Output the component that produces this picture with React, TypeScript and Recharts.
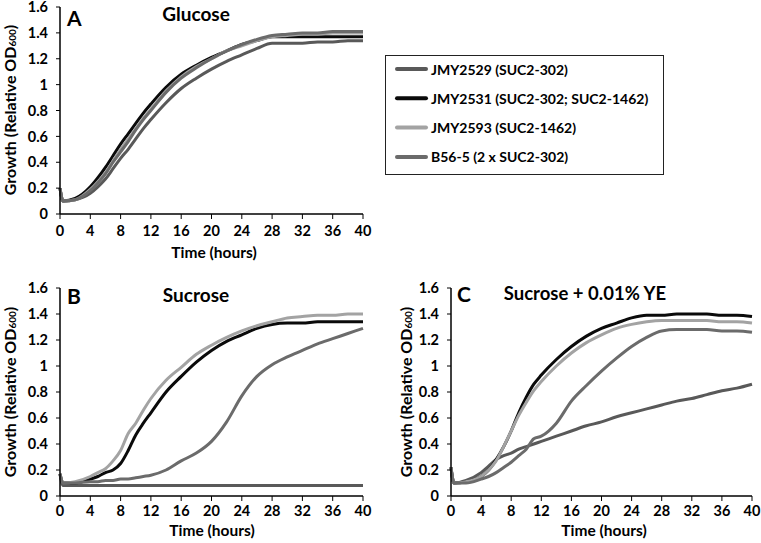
import React from "react";
import { LineChart, Line, XAxis, YAxis } from "recharts";

const FONT = "Lato, 'Open Sans', sans-serif";

const hours = [0, 0.4, 2, 4, 5, 6, 7, 8, 9, 10, 11, 12, 14, 16, 18, 20, 22, 24, 26, 28, 30, 32, 34, 36, 38, 40];
const xTicks = [0, 4, 8, 12, 16, 20, 24, 28, 32, 36, 40];
const yTicks = [0, 0.2, 0.4, 0.6, 0.8, 1, 1.2, 1.4, 1.6];

const strains = ["JMY2529 (SUC2-302)", "JMY2531 (SUC2-302; SUC2-1462)", "JMY2593 (SUC2-1462)", "B56-5 (2 x SUC2-302)"];
const strainColors = ["#595959", "#0a0a0a", "#a3a3a3", "#6b6b6b"];

// A: glucose
const glucose2529 = [0.2, 0.1, 0.11, 0.16, 0.21, 0.27, 0.35, 0.43, 0.5, 0.58, 0.66, 0.73, 0.86, 0.97, 1.05, 1.12, 1.18, 1.23, 1.28, 1.32, 1.32, 1.32, 1.33, 1.33, 1.34, 1.34];
const glucose2531 = [0.2, 0.1, 0.12, 0.21, 0.28, 0.36, 0.45, 0.54, 0.62, 0.7, 0.78, 0.85, 0.98, 1.08, 1.15, 1.21, 1.26, 1.31, 1.34, 1.37, 1.37, 1.37, 1.37, 1.37, 1.37, 1.37];
const glucose2593 = [0.2, 0.1, 0.11, 0.19, 0.25, 0.32, 0.41, 0.5, 0.58, 0.66, 0.74, 0.81, 0.95, 1.06, 1.14, 1.2, 1.26, 1.3, 1.34, 1.37, 1.38, 1.39, 1.39, 1.4, 1.4, 1.4];
const glucoseB565 = [0.2, 0.1, 0.11, 0.18, 0.24, 0.31, 0.4, 0.48, 0.56, 0.65, 0.73, 0.8, 0.94, 1.05, 1.13, 1.2, 1.26, 1.31, 1.35, 1.38, 1.39, 1.4, 1.4, 1.41, 1.41, 1.41];

// B: sucrose
const sucrose2529 = [0.17, 0.08, 0.08, 0.08, 0.08, 0.08, 0.08, 0.08, 0.08, 0.08, 0.08, 0.08, 0.08, 0.08, 0.08, 0.08, 0.08, 0.08, 0.08, 0.08, 0.08, 0.08, 0.08, 0.08, 0.08, 0.08];
const sucrose2531 = [0.17, 0.1, 0.1, 0.13, 0.15, 0.18, 0.2, 0.25, 0.35, 0.47, 0.56, 0.64, 0.8, 0.92, 1.03, 1.12, 1.19, 1.24, 1.29, 1.32, 1.33, 1.33, 1.34, 1.34, 1.34, 1.34];
const sucrose2593 = [0.17, 0.1, 0.11, 0.15, 0.18, 0.21, 0.27, 0.35, 0.48, 0.56, 0.66, 0.75, 0.89, 0.99, 1.09, 1.16, 1.22, 1.27, 1.31, 1.34, 1.37, 1.38, 1.39, 1.39, 1.4, 1.4];
const sucroseB565 = [0.17, 0.1, 0.1, 0.11, 0.11, 0.12, 0.12, 0.13, 0.13, 0.14, 0.15, 0.16, 0.2, 0.27, 0.33, 0.42, 0.57, 0.77, 0.92, 1.01, 1.07, 1.12, 1.17, 1.21, 1.25, 1.29];

// C: sucrose + 0.01% YE
const sucroseYe2529 = [0.22, 0.1, 0.12, 0.18, 0.23, 0.28, 0.31, 0.33, 0.36, 0.38, 0.4, 0.42, 0.46, 0.5, 0.54, 0.57, 0.61, 0.64, 0.67, 0.7, 0.73, 0.75, 0.78, 0.81, 0.83, 0.86];
const sucroseYe2531 = [0.22, 0.1, 0.11, 0.15, 0.2, 0.28, 0.38, 0.5, 0.64, 0.76, 0.86, 0.93, 1.05, 1.15, 1.23, 1.29, 1.33, 1.37, 1.39, 1.39, 1.4, 1.4, 1.4, 1.39, 1.39, 1.38];
const sucroseYe2593 = [0.22, 0.1, 0.11, 0.15, 0.2, 0.27, 0.38, 0.5, 0.62, 0.72, 0.81, 0.88, 1.0, 1.1, 1.18, 1.24, 1.29, 1.32, 1.34, 1.35, 1.35, 1.35, 1.35, 1.34, 1.34, 1.33];
const sucroseYeB565 = [0.22, 0.1, 0.1, 0.13, 0.15, 0.18, 0.22, 0.26, 0.31, 0.36, 0.44, 0.46, 0.56, 0.73, 0.85, 0.96, 1.06, 1.15, 1.22, 1.27, 1.28, 1.28, 1.28, 1.27, 1.27, 1.26];

const toRows = (series: number[][]) =>
  hours.map((t, i) => ({ t, s0: series[0][i], s1: series[1][i], s2: series[2][i], s3: series[3][i] }));

const tickStyle = { fill: "#000", fontSize: 14.5, fontWeight: 700, fontFamily: FONT };

function Panel({ rows, width, height, top, right, yWidth, xHeight, xMargin }: {
  rows: ReturnType<typeof toRows>; width: number; height: number; top: number; right: number; yWidth: number; xHeight: number; xMargin: number;
}) {
  return (
    <LineChart width={width} height={height} data={rows} margin={{ top, right, left: 0, bottom: 0 }}>
      <XAxis type="number" dataKey="t" domain={[0, 40]} ticks={xTicks} tick={tickStyle} height={xHeight}
        axisLine={{ stroke: "#000", strokeWidth: 1.5 }} tickLine={{ stroke: "#000" }} tickSize={5} tickMargin={xMargin} interval={0} />
      <YAxis type="number" domain={[0, 1.6]} ticks={yTicks} tick={tickStyle} width={yWidth} tickFormatter={(v) => String(v)}
        axisLine={{ stroke: "#000", strokeWidth: 1.5 }} tickLine={{ stroke: "#000" }} tickSize={4} tickMargin={8} interval={0} />
      {strains.map((s, i) => (
        <Line key={s} name={s} type="monotone" dataKey={`s${i}`} stroke={strainColors[i]} strokeWidth={3}
          dot={false} isAnimationActive={false} />
      ))}
    </LineChart>
  );
}

function YLabel({ x, y }: { x: number; y: number }) {
  return (
    <text x={x} y={y} transform={`rotate(-90, ${x}, ${y})`} textAnchor="middle" dominantBaseline="central"
      fontSize={16} fontWeight={700} fontFamily={FONT} fill="#000">
      Growth (Relative OD<tspan fontSize={10} dy={3}>600</tspan><tspan dy={-3}>)</tspan>
    </text>
  );
}

const textProps = { fontWeight: 700, fontFamily: FONT, fill: "#000", dominantBaseline: "central" as const };

export default function App() {
  return (
    <div style={{ position: "absolute", left: 0, top: 0, width: 761, height: 543, background: "#fff" }}>
      <div style={{ position: "absolute", left: 0, top: 0 }}>
        <Panel rows={toRows([glucose2529, glucose2531, glucose2593, glucoseB565])} width={380} height={270} top={7} right={17} yWidth={60} xHeight={56} xMargin={7} />
      </div>
      <div style={{ position: "absolute", left: 0, top: 270 }}>
        <Panel rows={toRows([sucrose2529, sucrose2531, sucrose2593, sucroseB565])} width={380} height={273} top={18} right={17} yWidth={60} xHeight={47} xMargin={5} />
      </div>
      <div style={{ position: "absolute", left: 380, top: 270 }}>
        <Panel rows={toRows([sucroseYe2529, sucroseYe2531, sucroseYe2593, sucroseYeB565])} width={381} height={273} top={18} right={9} yWidth={71} xHeight={47} xMargin={5} />
      </div>
      <svg width={761} height={543} style={{ position: "absolute", left: 0, top: 0, pointerEvents: "none" }}>
        <text x={67} y={17} fontSize={21} {...textProps}>A</text>
        <text x={196} y={13} fontSize={19} textAnchor="middle" {...textProps}>Glucose</text>
        <text x={67} y={295} fontSize={21} {...textProps}>B</text>
        <text x={196} y={294} fontSize={19} textAnchor="middle" {...textProps}>Sucrose</text>
        <text x={457} y={293} fontSize={21} {...textProps}>C</text>
        <text x={585} y={293} fontSize={18.5} textAnchor="middle" {...textProps}>Sucrose + 0.01% YE</text>

        <text x={214} y={252} fontSize={15.5} textAnchor="middle" {...textProps}>Time (hours)</text>
        <text x={212} y={530} fontSize={15.5} textAnchor="middle" {...textProps}>Time (hours)</text>
        <text x={604} y={530} fontSize={15.5} textAnchor="middle" {...textProps}>Time (hours)</text>

        <YLabel x={9} y={110} />
        <YLabel x={9} y={392} />
        <YLabel x={405} y={392} />

        <rect x={385.5} y={55.5} width={278} height={119} fill="#fff" stroke="#222" strokeWidth={1} />
        {strains.map((s, i) => (
          <g key={s}>
            <line x1={397} x2={426} y1={69 + i * 29.3} y2={69 + i * 29.3} stroke={strainColors[i]} strokeWidth={4} strokeLinecap="round" />
            <text x={431} y={69 + i * 29.3} fontSize={14} {...textProps}>{s}</text>
          </g>
        ))}
      </svg>
    </div>
  );
}
